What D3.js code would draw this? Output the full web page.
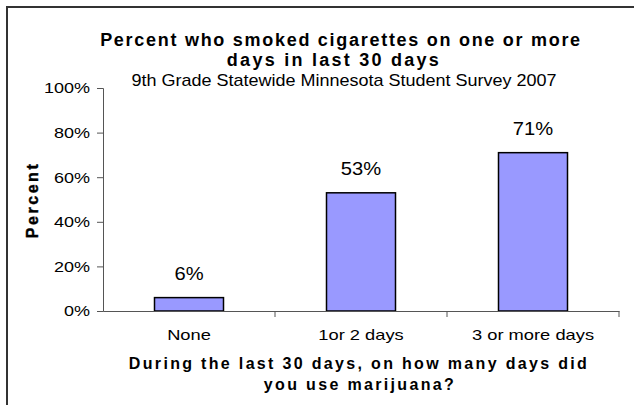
<!DOCTYPE html>
<html><head><meta charset="utf-8">
<script src="https://cdn.jsdelivr.net/npm/d3@7"></script>
<style>
html,body{margin:0;padding:0;background:#fff;}
svg{display:block;font-family:"Liberation Sans",Arial,sans-serif;}
</style></head>
<body>
<svg id="chart" width="634" height="405"></svg>
<script>
const categories = ["None", "1or 2 days", "3 or more days"];
const values = [6, 53, 71];
const yTicks = [0, 20, 40, 60, 80, 100];
const titleLines = ["Percent who smoked cigarettes on one or more", "days in last 30 days"];
const subtitle = "9th Grade Statewide Minnesota Student Survey 2007";
const xTitleLines = ["During the last 30 days, on how many days did", "you use marijuana?"];
const yTitle = "Percent";

const svg = d3.select("#chart");
svg.append("rect").attr("x", 7).attr("y", 7).attr("width", 660).attr("height", 440)
  .attr("fill", "#fff").attr("stroke", "#333").attr("stroke-width", 2);

const pL = 103, pR = 619, pT = 88, pB = 311;
const xb = d3.scaleBand().domain(categories).range([pL, pR]);
const y = d3.scaleLinear().domain([0, 100]).range([pB, pT]);
const barW = 69;
const FONT = "'Liberation Sans',Arial,sans-serif";

// spread letters so the line has width w
function fit(sel, w) {
  sel.each(function() {
    const len = this.getComputedTextLength();
    const n = this.textContent.length;
    if (n > 1) d3.select(this).attr("letter-spacing", ((w - len) / (n - 1)).toFixed(3));
  });
}
// stretch glyphs horizontally by factor k
function stretch(sel, k) {
  sel.each(function() {
    const len = this.getComputedTextLength();
    d3.select(this).attr("textLength", (len * k).toFixed(2)).attr("lengthAdjust", "spacingAndGlyphs");
  });
}

// bars
svg.selectAll("rect.bar").data(values).enter().append("rect")
  .attr("class", "bar")
  .attr("x", (d, i) => xb(categories[i]) + (xb.bandwidth() - barW) / 2)
  .attr("width", barW)
  .attr("y", d => y(d)).attr("height", d => y(0) - y(d))
  .attr("fill", "#9999ff").attr("stroke", "#000").attr("stroke-width", 1.5);

// value labels
svg.selectAll("text.val").data(values).enter().append("text")
  .attr("class", "val")
  .attr("x", (d, i) => xb(categories[i]) + xb.bandwidth() / 2)
  .attr("y", d => y(d) - 18)
  .attr("text-anchor", "middle").attr("font-size", 18).attr("fill", "#000")
  .text(d => d + "%").call(stretch, 1.12);

// y axis
const yAxis = svg.append("g").attr("transform", `translate(${pL},0)`)
  .call(d3.axisLeft(y).tickValues(yTicks).tickSize(6).tickPadding(7).tickFormat(d => d + "%"));
yAxis.select(".domain").attr("stroke", "#555");
yAxis.selectAll(".tick line").attr("stroke", "#555");
yAxis.selectAll(".tick text").attr("font-size", 15).attr("fill", "#000")
  .attr("font-family", FONT).call(stretch, 1.2);

// x axis
const xAxis = svg.append("g").attr("transform", `translate(0,${pB})`)
  .call(d3.axisBottom(xb).tickSize(0));
xAxis.select(".domain").attr("stroke", "#555");
xAxis.selectAll(".tick text").attr("font-size", 15).attr("fill", "#000")
  .attr("font-family", FONT).attr("dy", "0").attr("y", 29).call(stretch, 1.22);
const bounds = categories.slice(1).map(c => xb(c)).concat([pR]);
xAxis.selectAll("line.bt").data(bounds).enter().append("line").attr("class", "bt")
  .attr("x1", d => d).attr("x2", d => d).attr("y1", 0).attr("y2", 6).attr("stroke", "#555");

// title
const tt = svg.append("g").attr("font-weight", "bold").attr("font-size", 18).attr("fill", "#000");
tt.append("text").attr("x", 341).attr("y", 46).attr("text-anchor", "middle").text(titleLines[0]).call(fit, 480);
tt.append("text").attr("x", 334).attr("y", 66).attr("text-anchor", "middle").text(titleLines[1]).call(fit, 212);
svg.append("text").attr("x", 344).attr("y", 86).attr("text-anchor", "middle").attr("font-size", 17)
  .text(subtitle).attr("textLength", 425).attr("lengthAdjust", "spacingAndGlyphs");

// x title
const xt = svg.append("g").attr("font-weight", "bold").attr("font-size", 16).attr("fill", "#000");
xt.append("text").attr("x", 359).attr("y", 369).attr("text-anchor", "middle").text(xTitleLines[0]).call(fit, 458);
xt.append("text").attr("x", 360).attr("y", 390).attr("text-anchor", "middle").text(xTitleLines[1]).call(fit, 190);

// y title
svg.append("text").attr("transform", "translate(38,200) rotate(-90)").attr("text-anchor", "middle")
  .attr("font-weight", "bold").attr("font-size", 16).attr("stroke", "#000").attr("stroke-width", 0.4)
  .text(yTitle).call(fit, 74);
</script>
</body></html>
